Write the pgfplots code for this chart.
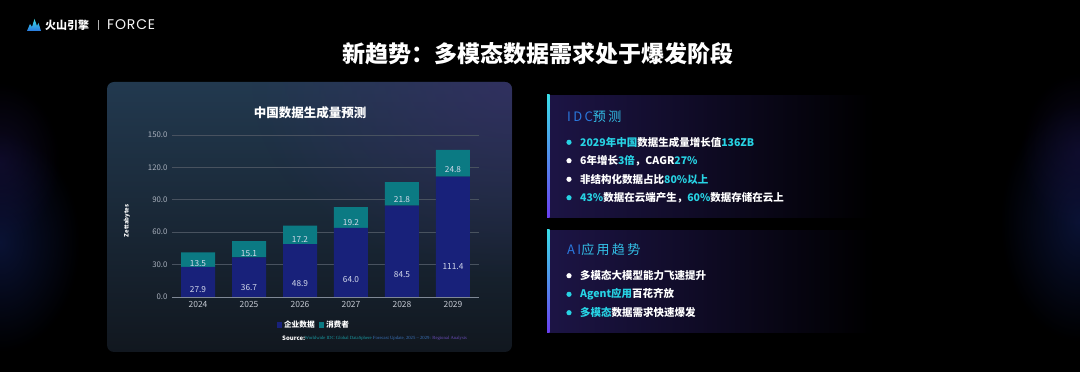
\documentclass[border=0pt]{standalone}
\usepackage{fontspec}
\setmainfont{Noto Sans CJK SC}
\newfontfamily\forcefont{Poppins}[LetterSpace=6]
\newfontfamily\srcfont{Liberation Serif}
\usepackage{pgfplots}
\pgfplotsset{compat=1.18}
\usepackage{pgfplotstable}
\usetikzlibrary{fadings}
\definecolor{ent}{HTML}{18217A}
\definecolor{con}{HTML}{0B7A83}
\definecolor{gridc}{HTML}{48525F}
\definecolor{axisc}{HTML}{7F8895}
\definecolor{tickc}{HTML}{A9B1BD}
\definecolor{xtickc}{HTML}{C4C9D2}
\definecolor{labc}{HTML}{D4DAEC}
\definecolor{cyanT}{HTML}{27D3E4}
\definecolor{pan}{HTML}{1D1546}
\definecolor{accP}{HTML}{6A3EF0}
\definecolor{accC}{HTML}{3ADDE8}
\definecolor{ttlB}{HTML}{2A78DE}
\definecolor{ttlC}{HTML}{33BFE6}
\definecolor{cpTop}{HTML}{22394F}
\definecolor{cpBot}{HTML}{11171F}
\definecolor{cpPur}{HTML}{3A2B6A}
\definecolor{srcA}{HTML}{1A9AA2}
\definecolor{srcB}{HTML}{3A72B8}
\definecolor{srcC}{HTML}{6A4CB8}
\definecolor{glowA}{HTML}{0E1A4A}
\definecolor{glowB}{HTML}{1A1245}
\tikzfading[name=fade right, left color=transparent!0, middle color=transparent!25, right color=transparent!100]
\tikzfading[name=radfade, inner color=transparent!0, outer color=transparent!100]
\pgfplotstableread{
x e c
0 27.9 13.5
1 36.7 15.1
2 48.9 17.2
3 64.0 19.2
4 84.5 21.8
5 111.4 24.8
}\data
\begin{document}
\begin{tikzpicture}[x=1pt,y=1pt]
\useasboundingbox (0,0) rectangle (1080,372);
\fill[black] (0,0) rectangle (1080,372);
% faint side glows
\begin{scope}
\clip (0,0) rectangle (1080,372);
\fill[glowA, path fading=radfade, opacity=0.7] (0,130) ellipse (80 and 110);
\fill[glowB, path fading=radfade, opacity=0.5] (0,210) ellipse (60 and 80);
\fill[glowA, path fading=radfade, opacity=0.7] (1080,150) ellipse (80 and 120);
\fill[glowB, path fading=radfade, opacity=0.5] (1080,220) ellipse (60 and 80);
\end{scope}
% logo
\shade[top color=accC, bottom color=ttlB] (27,341) -- (30,348) -- (32,345) -- (34.5,353) -- (37,346) -- (38.5,349) -- (41,341) -- cycle;
\node[anchor=west, inner sep=0, font=\fontsize{11}{12}\selectfont\bfseries, text=white] at (45,347) {火山引擎};
\draw[gray!60, line width=0.6pt] (98,342) -- (98,352);
\node[anchor=west, inner sep=0, font=\forcefont\fontsize{14}{15}\selectfont, text=white!92!gray] at (107,347) {FORCE};
% title
\node[font=\fontsize{23}{26}\selectfont\bfseries, text=white] at (538,318) {新趋势：多模态数据需求处于爆发阶段};
% chart panel
\shade[rounded corners=7pt, top color=cpTop, bottom color=cpBot] (107,20) rectangle (512,290);
\begin{scope}
\clip[rounded corners=7pt] (107,20) rectangle (512,290);
\fill[cpPur, path fading=radfade, opacity=0.6] (512,290) ellipse (260 and 200);
\end{scope}
\node[font=\fontsize{12.5}{14}\selectfont\bfseries, text=white] at (310,259) {中国数据生成量预测};
\begin{axis}[
  at={(172pt,75pt)}, anchor=south west, scale only axis, width=307pt, height=162pt,
  xmin=-0.51, xmax=5.51, ymin=0, ymax=150,
  ybar stacked, bar width=34pt,
  xtick={0,...,5}, xticklabels={2024,2025,2026,2027,2028,2029},
  ytick={0,30,60,90,120,150},
  ymajorgrids, grid style={draw=gridc, line width=0.7pt},
  axis x line=bottom, axis y line=left,
  x axis line style={draw=axisc, line width=0.8pt, -},
  y axis line style={draw=none},
  major tick length=0pt,
  /pgf/number format/assume math mode=true,
  yticklabel style={text=tickc, font=\fontsize{7.8}{9}\selectfont, xshift=-1pt, /pgf/number format/.cd, fixed, fixed zerofill, precision=1},
  xticklabel style={text=xtickc, font=\fontsize{8.5}{10}\selectfont, yshift=-0.5pt},
  ylabel={Zettabytes},
  ylabel style={at={(axis description cs:-0.147,0.47)}, anchor=center, rotate=0, font=\fontsize{6}{7}\selectfont\bfseries, text=white},
  point meta=explicit,
  nodes near coords={\pgfmathprintnumber[fixed,fixed zerofill,precision=1]{\pgfplotspointmeta}},
  every node near coord/.append style={anchor=center, yshift={-0.27*\val pt}, text=labc, font=\fontsize{8.3}{10}\selectfont},
  legend style={at={(axis description cs:0.4625,-0.173)}, anchor=center, draw=none, fill=none, text=white,
    font=\fontsize{7.7}{9}\selectfont\bfseries, legend columns=2,
    /tikz/every even column/.append style={column sep=2pt}},
  legend image code/.code={\fill[#1] (0pt,-2.6pt) rectangle (5.2pt,2.6pt);},
]
\addplot[fill=ent, draw=none, visualization depends on={\thisrow{e}\as\val}] table[x=x, y=e, meta=e] {\data};
\addlegendentry{企业数据}
\addplot[fill=con, draw=none, visualization depends on={\thisrow{c}\as\val}] table[x=x, y=c, meta=c] {\data};
\addlegendentry{消费者}
\end{axis}
\node[anchor=west, inner sep=0, font=\fontsize{6}{7}\selectfont\bfseries, text=white] at (282,34) {Source:};
\node[anchor=west, inner sep=0, font=\srcfont\fontsize{4.7}{5}\selectfont] at (304.5,34) {\textcolor{srcA}{Worldwide IDC Global DataSphere }\textcolor{srcB}{Forecast Update, 2025 – 2029: }\textcolor{srcC}{Regional Analysis}};
% right panel 1
\fill[pan, path fading=fade right] (548,154) rectangle (875,277);
\shade[top color=accC, bottom color=accP] (547,154) rectangle (549.5,277);
\node[anchor=west, inner sep=0, font=\fontsize{13}{14}\selectfont\addfontfeatures{LetterSpace=18}] at (567,255) {\textcolor{ttlB}{IDC}\textcolor{ttlC}{预测}};
\fill[cyanT] (569,229.7) circle (2.6pt);
\fill[white] (569,211.3) circle (2.6pt);
\fill[white] (569,192.7) circle (2.6pt);
\fill[cyanT] (569,174.3) circle (2.6pt);
\begin{scope}[every node/.style={anchor=west, inner sep=0, font=\fontsize{10.5}{12}\selectfont\bfseries, text=white}]
\node at (580,229.7) {\textcolor{cyanT}{2029年中国}数据生成量增长值\textcolor{cyanT}{136ZB}};
\node at (580,211.3) {6年增长\textcolor{cyanT}{3倍}，CAGR\textcolor{cyanT}{27\%}};
\node at (580,192.7) {非结构化数据占比\textcolor{cyanT}{80\%以上}};
\node at (580,174.3) {\textcolor{cyanT}{43\%}数据在云端产生，\textcolor{cyanT}{60\%}数据存储在云上};
\end{scope}
% right panel 2
\fill[pan, path fading=fade right] (548,39) rectangle (875,142);
\shade[top color=accC, bottom color=accP] (547,39) rectangle (549.5,142);
\node[anchor=west, inner sep=0, font=\fontsize{13}{14}\selectfont\addfontfeatures{LetterSpace=18}] at (567,122) {\textcolor{ttlB}{AI}\textcolor{ttlC}{应用趋势}};
\fill[white] (569,96.3) circle (2.6pt);
\fill[cyanT] (569,77.7) circle (2.6pt);
\fill[cyanT] (569,59.3) circle (2.6pt);
\begin{scope}[every node/.style={anchor=west, inner sep=0, font=\fontsize{10.5}{12}\selectfont\bfseries, text=white}]
\node at (580,96.3) {多模态大模型能力飞速提升};
\node at (580,77.7) {\textcolor{cyanT}{Agent应用}百花齐放};
\node at (580,59.3) {\textcolor{cyanT}{多模态}数据需求快速爆发};
\end{scope}
\end{tikzpicture}
\end{document}
